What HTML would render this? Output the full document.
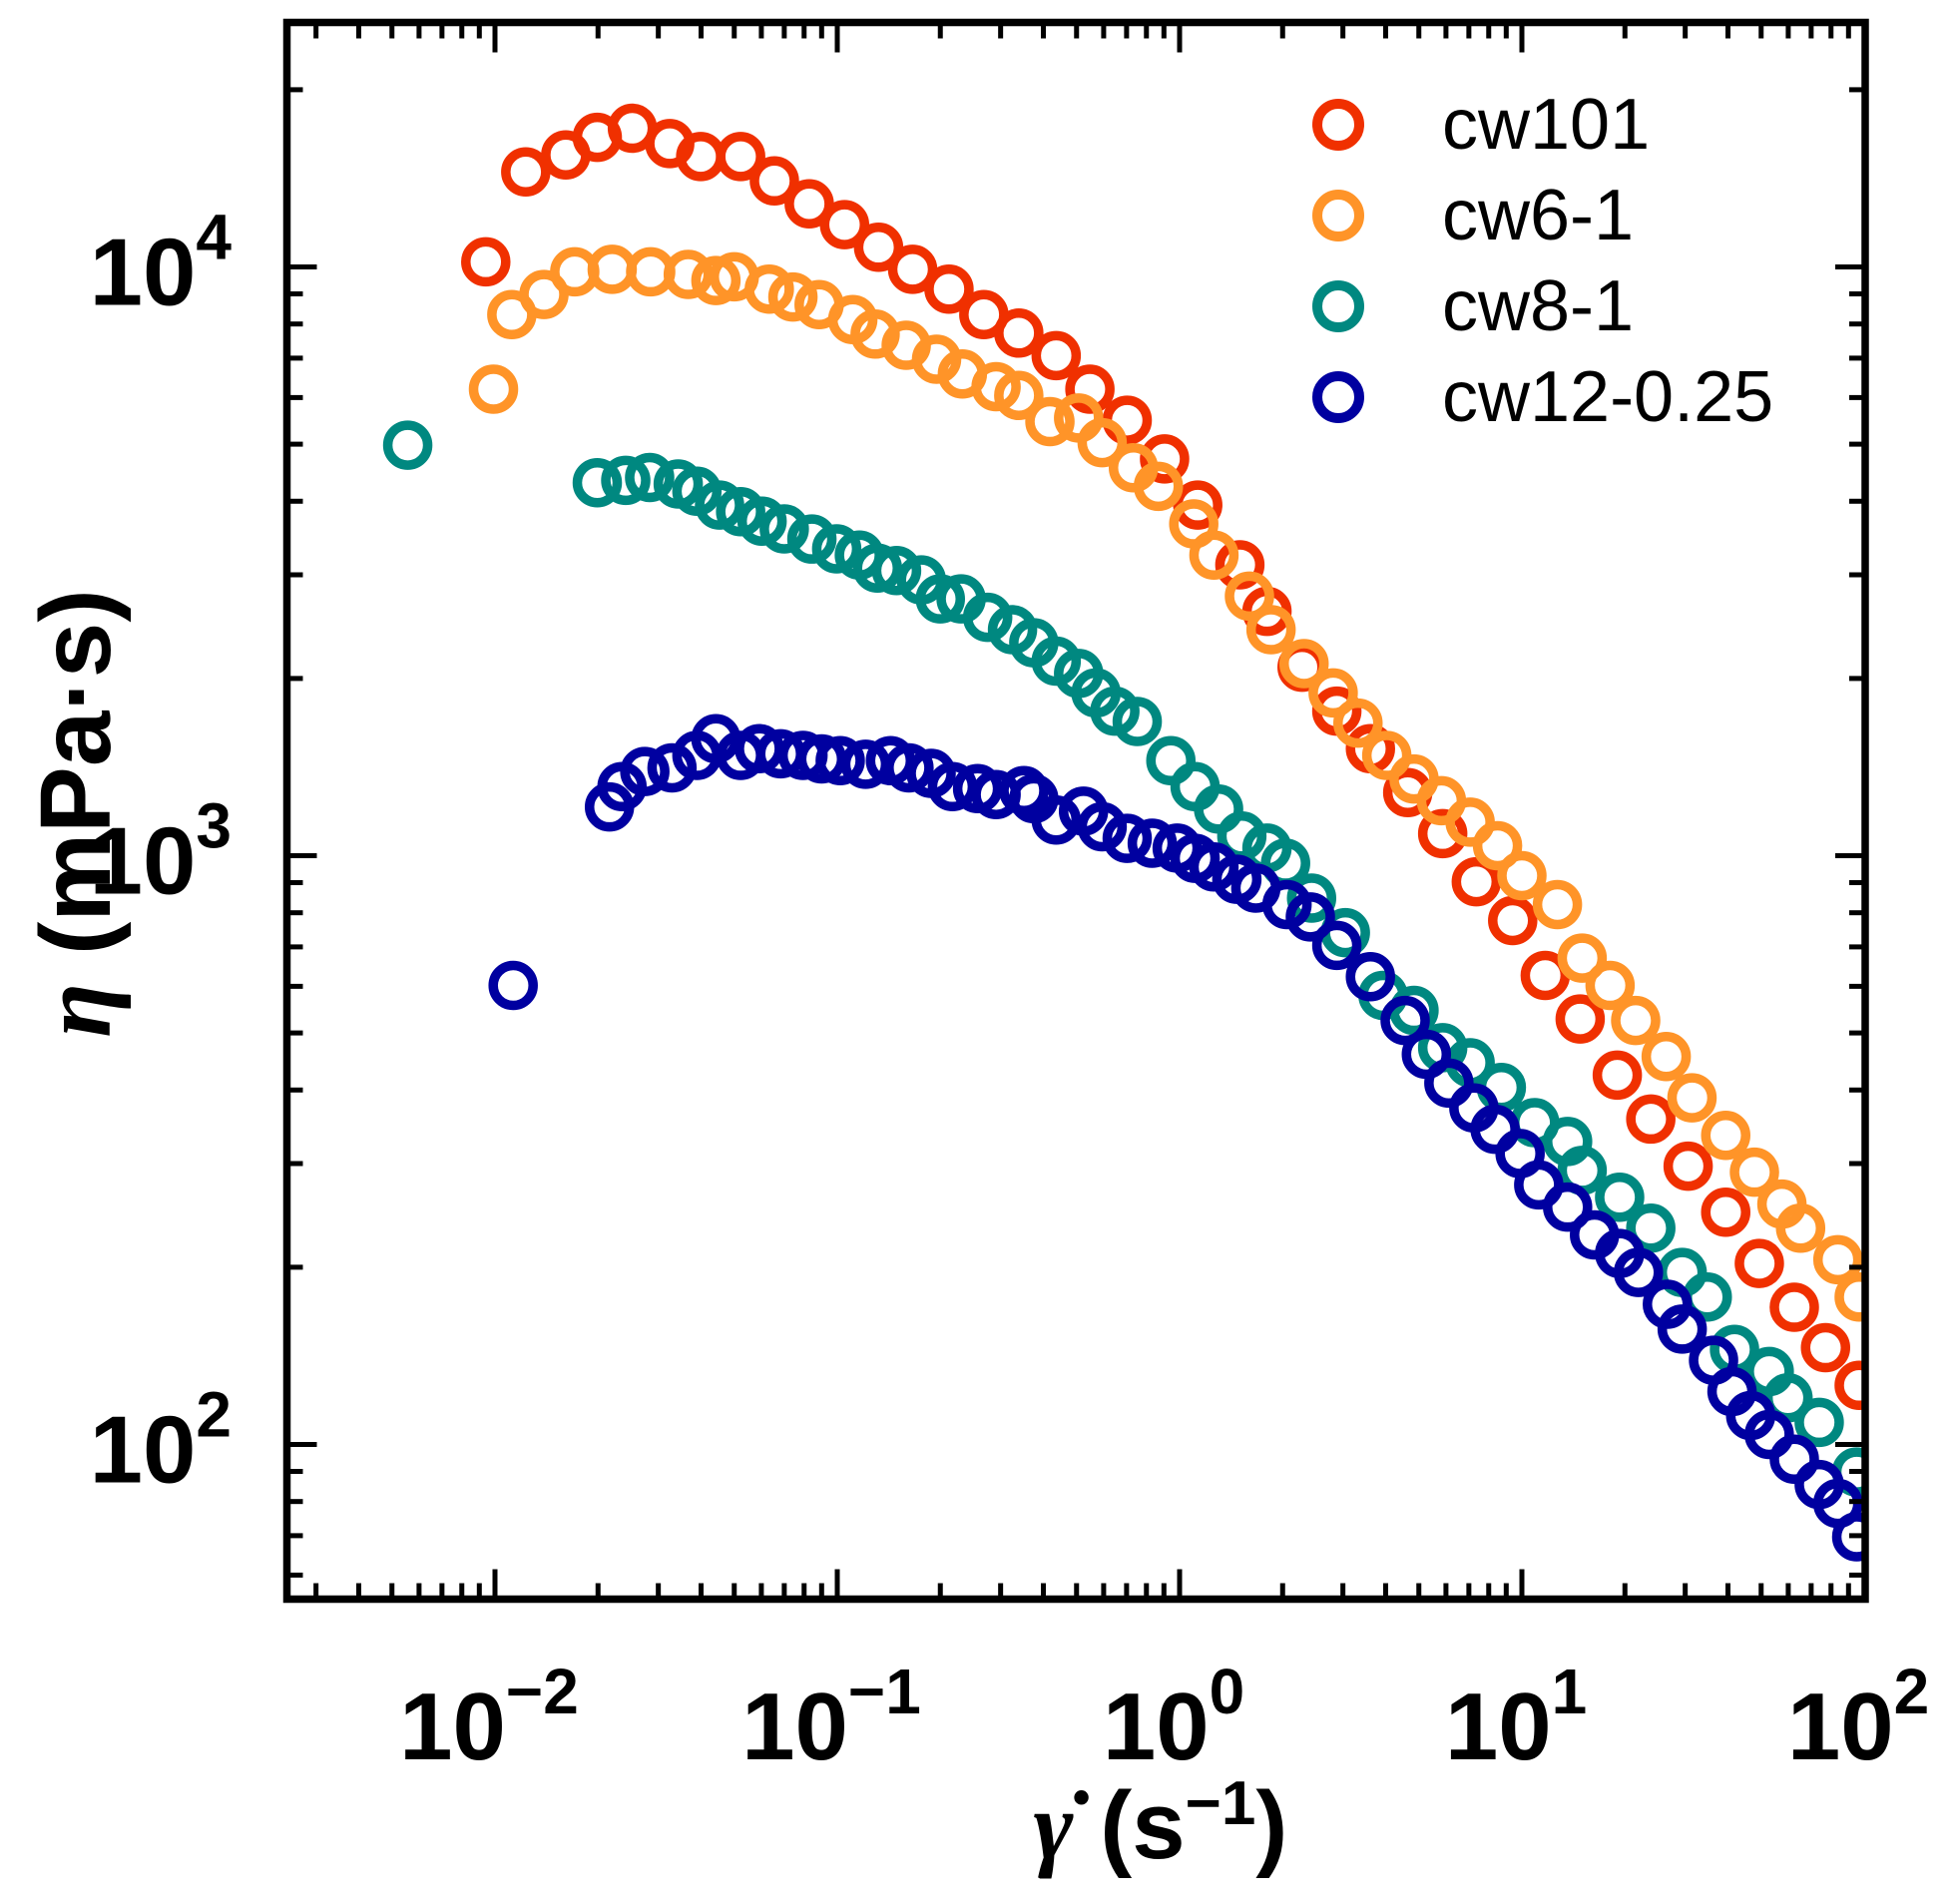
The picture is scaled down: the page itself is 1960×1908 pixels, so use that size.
<!DOCTYPE html>
<html><head><meta charset="utf-8"><style>
html,body{margin:0;padding:0;background:#fff;}
svg{display:block;font-family:"Liberation Sans",Arial,sans-serif;}
</style></head><body>
<svg id="chart" width="1960" height="1908" viewBox="0 0 1960 1908" xmlns="http://www.w3.org/2000/svg">
<g id="marks"></g>
<g id="axes"></g>
<g id="legend"></g>
<text transform="translate(110,815) rotate(-90)" text-anchor="middle" font-size="100" font-weight="bold"><tspan font-family="Liberation Serif,serif" font-style="italic">η</tspan> (mPa·s)</text>
<text x="1163" y="1862" text-anchor="middle" font-size="96" font-weight="bold"><tspan font-family="Liberation Serif,serif" font-style="italic">γ̇</tspan> (s<tspan font-size="62" dy="-34">−1</tspan><tspan dy="34">)</tspan></text>
</svg>
<script>
const names = ["cw101","cw6-1","cw8-1","cw12-0.25"];
const colors = ["#f03000","#ff9428","#008880","#0000a0"];
const x101 = [0.0094,0.0123,0.0161,0.0199,0.0252,0.0324,0.0399,0.0522,0.0655,0.0828,0.105,0.132,0.166,0.212,0.268,0.339,0.436,0.547,0.703,0.904,1.13,1.50,1.80,2.28,2.88,3.61,4.64,5.87,7.36,9.40,11.7,14.8,19.0,23.8,30.6,39.4,49.4,62.5,77.1,96.7];
const y101 = [10200,14500,15500,16600,17200,16200,15400,15400,14000,12800,11800,10800,9910,9170,8300,7720,7070,6200,5490,4720,3940,3120,2600,2090,1760,1520,1280,1090,903,776,626,528,424,357,297,248,203,171,146,126];
const x6 = [0.0099,0.0112,0.0139,0.0171,0.0220,0.0285,0.0367,0.0442,0.0500,0.0633,0.0742,0.0885,0.111,0.129,0.159,0.195,0.232,0.291,0.339,0.418,0.507,0.594,0.733,0.867,1.10,1.26,1.60,1.85,2.31,2.81,3.32,4.03,4.84,5.82,7.06,8.49,10.0,12.7,15.0,18.1,21.5,26.4,31.4,39.4,47.8,57.5,65.2,83.8,96.7];
const y6 = [6200,8300,8980,9810,9910,9810,9710,9480,9620,9170,8890,8630,8140,7690,7360,6970,6580,6260,6050,5460,5540,5030,4560,4240,3660,3240,2760,2420,2120,1890,1680,1480,1350,1240,1140,1040,925,826,670,602,525,456,388,335,290,256,233,206,178];
const x8 = [0.00556,0.0199,0.0241,0.0283,0.0343,0.0389,0.0453,0.0522,0.0603,0.0700,0.0843,0.0996,0.116,0.131,0.149,0.176,0.200,0.230,0.275,0.325,0.375,0.436,0.507,0.570,0.647,0.752,0.943,1.11,1.30,1.52,1.80,2.04,2.43,3.05,3.93,4.84,5.87,7.06,8.71,10.9,13.6,15.0,19.3,23.8,29.4,34.8,41.8,52.8,59.9,73.9,95.1];
const y8 = [4980,4300,4340,4390,4280,4160,3940,3840,3700,3590,3450,3320,3240,3080,3050,2940,2730,2730,2540,2420,2300,2140,2040,1890,1760,1690,1450,1310,1200,1080,1030,971,847,740,579,546,472,445,404,352,327,292,263,233,196,178,145,133,120,109,89.8];
const x12 = [0.0113,0.0216,0.0235,0.0274,0.0329,0.0389,0.0442,0.0522,0.0592,0.0683,0.0794,0.0900,0.102,0.121,0.143,0.162,0.188,0.217,0.257,0.291,0.351,0.375,0.436,0.524,0.594,0.703,0.832,0.984,1.11,1.26,1.47,1.67,2.06,2.41,2.88,3.61,4.56,5.26,6.12,7.24,8.35,9.88,11.2,13.6,16.3,19.3,21.9,26.6,29.4,36.3,41.1,46.6,52.8,62.5,73.9,83.8,95.1];
const y12 = [602,1210,1310,1390,1410,1480,1580,1480,1520,1490,1480,1460,1450,1430,1450,1410,1380,1310,1300,1270,1290,1250,1150,1190,1120,1070,1050,1030,990,957,912,881,826,787,704,623,525,460,411,373,343,312,276,253,227,211,196,173,157,139,123,112,104,94.4,85.5,79.4,69.7];
const xTickExps = [-2,-1,0,1,2];
const yTickExps = [2,3,4];

const NS="http://www.w3.org/2000/svg";
const L=287.5,R=1869,T=22.5,B=1602.5;
function sx(v){return 496+(Math.log10(v)+2)*343;}
function sy(v){return 857.5-(Math.log10(v)-3)*590;}
function mk(tag,attrs,parent){const e=document.createElementNS(NS,tag);for(const k in attrs)e.setAttribute(k,attrs[k]);parent.appendChild(e);return e;}

const marks=document.getElementById('marks');
const xs=[x101,x6,x8,x12], ys=[y101,y6,y8,y12];
for(let s=0;s<4;s++){
  const g=mk('g',{},marks);
  
  
  for(let i=0;i<xs[s].length;i++){
    const c=mk('circle',{cx:sx(xs[s][i]),cy:sy(ys[s][i]),r:20,fill:'none',stroke:colors[s],'stroke-width':9.5},g);
    
    
  }
}
const axes=document.getElementById('axes');
mk('rect',{x:0,y:0,width:L,height:1908,fill:'#fff'},axes);
mk('rect',{x:R,y:0,width:1960-R,height:1908,fill:'#fff'},axes);
mk('rect',{x:0,y:0,width:1960,height:T,fill:'#fff'},axes);
mk('rect',{x:0,y:B,width:1960,height:1908-B,fill:'#fff'},axes);
const frame=mk('rect',{x:L,y:T,width:R-L,height:B-T,fill:'none',stroke:'#000','stroke-width':7.5},axes);


for(let e=-3;e<=2;e++){
  for(let m=1;m<10;m++){
    const v=m*Math.pow(10,e);const x=sx(v);
    if(x<L+2||x>R+1)continue;
    const len=m===1?30:16;
    mk('line',{x1:x,y1:B,x2:x,y2:B-len,stroke:'#000','stroke-width':5},axes);
    mk('line',{x1:x,y1:T,x2:x,y2:T+len,stroke:'#000','stroke-width':5},axes);
  }
}
for(let e=1;e<=4;e++){
  for(let m=1;m<10;m++){
    const v=m*Math.pow(10,e);const y=sy(v);
    if(y<T-1||y>B-2)continue;
    const len=m===1?30:16;
    mk('line',{x1:L,y1:y,x2:L+len,y2:y,stroke:'#000','stroke-width':5},axes);
    mk('line',{x1:R,y1:y,x2:R-len,y2:y,stroke:'#000','stroke-width':5},axes);
  }
}
xTickExps.forEach(e=>{
  const t=mk('text',{x:sx(Math.pow(10,e))-6,y:1763,'text-anchor':'middle','font-size':96,'font-weight':'bold'},axes);
  
  
  t.innerHTML='10<tspan font-size="64" dy="-46">'+(e<0?'−'+(-e):e)+'</tspan>';
});
yTickExps.forEach(e=>{
  const t=mk('text',{x:232,y:sy(Math.pow(10,e))+38,'text-anchor':'end','font-size':96,'font-weight':'bold'},axes);
  
  
  t.innerHTML='10<tspan font-size="64" dy="-46">'+e+'</tspan>';
});
const leg=document.getElementById('legend');
const ly=[125,216,307,398];
for(let s=0;s<4;s++){
  const g=mk('g',{},leg);
  
  
  mk('circle',{cx:1341,cy:ly[s],r:21,fill:'none',stroke:colors[s],'stroke-width':10},g);
  const t=mk('text',{x:1445,y:ly[s]+24,'font-size':72},g);
  t.textContent=names[s];
}
</script>
</body></html>
